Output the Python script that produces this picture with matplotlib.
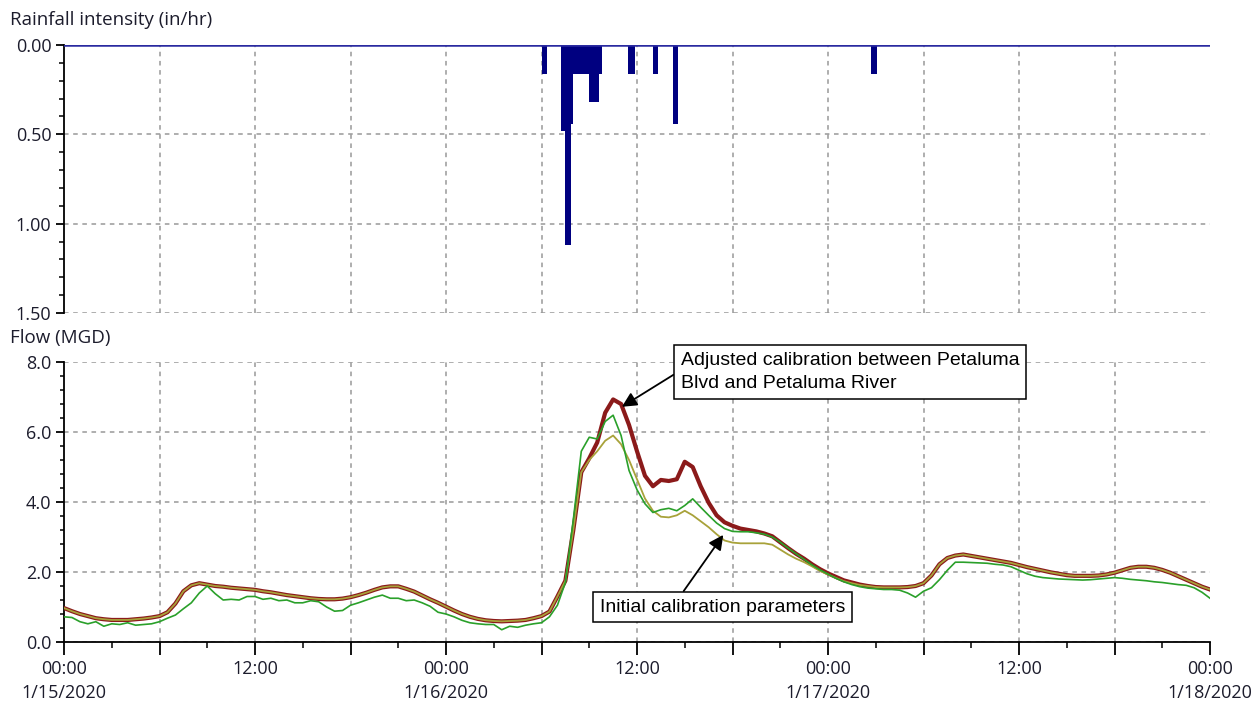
import matplotlib.pyplot as plt
import matplotlib.dates as mdates
from matplotlib import font_manager
from matplotlib.ticker import MultipleLocator, FormatStrFormatter
import pandas as pd

# rainfall (in/hr), 1/16 - 1/17 2020
rain_start = ["2020-01-16 06:00", "2020-01-16 07:12", "2020-01-16 07:30", "2020-01-16 07:50",
              "2020-01-16 08:00", "2020-01-16 09:00", "2020-01-16 09:35", "2020-01-16 11:27",
              "2020-01-16 13:01", "2020-01-16 14:14", "2020-01-17 02:42"]
rain_minutes = [22, 18, 20, 10, 60, 35, 12, 25, 17, 19, 24]
rain_intensity = [0.16, 0.48, 1.12, 0.44, 0.16, 0.32, 0.16, 0.16, 0.16, 0.44, 0.16]

# flow (MGD), half-hourly from 1/15/2020 00:00 to 1/18/2020 00:00
adjusted = [0.97, 0.88, 0.80, 0.74, 0.68, 0.65, 0.63, 0.63, 0.63, 0.65,
            0.67, 0.70, 0.74, 0.85, 1.10, 1.45, 1.62, 1.68, 1.64, 1.60,
            1.58, 1.55, 1.53, 1.51, 1.49, 1.45, 1.42, 1.38, 1.34, 1.31,
            1.28, 1.25, 1.23, 1.22, 1.22, 1.24, 1.28, 1.34, 1.41, 1.49,
            1.56, 1.59, 1.59, 1.52, 1.44, 1.33, 1.22, 1.12, 1.01, 0.90,
            0.80, 0.72, 0.66, 0.62, 0.60, 0.59, 0.60, 0.61, 0.63, 0.68,
            0.74, 0.87, 1.30, 1.75, 3.20, 4.85, 5.25, 5.70, 6.55, 6.93,
            6.80, 6.20, 5.45, 4.75, 4.45, 4.63, 4.60, 4.65, 5.15, 5.00,
            4.45, 3.98, 3.62, 3.42, 3.32, 3.24, 3.20, 3.16, 3.10, 3.02,
            2.85, 2.68, 2.52, 2.38, 2.22, 2.08, 1.96, 1.86, 1.76, 1.70,
            1.64, 1.60, 1.57, 1.56, 1.56, 1.56, 1.57, 1.60, 1.68, 1.90,
            2.22, 2.40, 2.47, 2.50, 2.46, 2.42, 2.38, 2.34, 2.30, 2.26,
            2.20, 2.14, 2.09, 2.04, 1.99, 1.95, 1.91, 1.89, 1.89, 1.89,
            1.90, 1.93, 1.98, 2.05, 2.12, 2.15, 2.15, 2.12, 2.06, 1.98,
            1.88, 1.78, 1.68, 1.58, 1.50]

initial = [0.97, 0.88, 0.80, 0.74, 0.68, 0.65, 0.63, 0.63, 0.63, 0.65,
           0.67, 0.70, 0.74, 0.85, 1.10, 1.45, 1.62, 1.68, 1.64, 1.60,
           1.58, 1.55, 1.53, 1.51, 1.49, 1.45, 1.42, 1.38, 1.34, 1.31,
           1.28, 1.25, 1.23, 1.22, 1.22, 1.24, 1.28, 1.34, 1.41, 1.49,
           1.56, 1.59, 1.59, 1.52, 1.44, 1.33, 1.22, 1.12, 1.01, 0.90,
           0.80, 0.72, 0.66, 0.62, 0.60, 0.59, 0.60, 0.61, 0.63, 0.68,
           0.74, 0.87, 1.30, 1.75, 3.20, 4.85, 5.20, 5.45, 5.75, 5.90,
           5.65, 5.20, 4.65, 4.10, 3.75, 3.58, 3.56, 3.62, 3.75, 3.62,
           3.45, 3.28, 3.08, 2.90, 2.84, 2.82, 2.82, 2.82, 2.82, 2.78,
           2.64, 2.50, 2.38, 2.28, 2.16, 2.03, 1.93, 1.83, 1.74, 1.68,
           1.63, 1.60, 1.57, 1.56, 1.56, 1.56, 1.57, 1.60, 1.68, 1.90,
           2.22, 2.40, 2.47, 2.50, 2.46, 2.42, 2.38, 2.34, 2.30, 2.26,
           2.20, 2.14, 2.09, 2.04, 1.99, 1.95, 1.91, 1.89, 1.89, 1.89,
           1.90, 1.93, 1.98, 2.05, 2.12, 2.15, 2.15, 2.12, 2.06, 1.98,
           1.88, 1.78, 1.68, 1.58, 1.50]

observed = [0.72, 0.70, 0.58, 0.52, 0.58, 0.45, 0.52, 0.50, 0.55, 0.48,
            0.50, 0.52, 0.58, 0.68, 0.77, 0.95, 1.12, 1.40, 1.60, 1.38,
            1.20, 1.22, 1.20, 1.30, 1.30, 1.22, 1.25, 1.18, 1.20, 1.12,
            1.12, 1.18, 1.15, 1.00, 0.88, 0.90, 1.05, 1.12, 1.20, 1.28,
            1.34, 1.25, 1.25, 1.18, 1.20, 1.12, 1.02, 0.85, 0.80, 0.72,
            0.62, 0.55, 0.52, 0.50, 0.50, 0.35, 0.45, 0.42, 0.48, 0.52,
            0.55, 0.72, 1.05, 1.70, 3.50, 5.45, 5.85, 5.80, 6.30, 6.48,
            5.90, 4.90, 4.35, 3.95, 3.70, 3.78, 3.82, 3.75, 3.90, 4.09,
            3.85, 3.62, 3.40, 3.24, 3.16, 3.15, 3.15, 3.12, 3.08, 3.00,
            2.85, 2.68, 2.52, 2.36, 2.20, 2.06, 1.94, 1.82, 1.72, 1.64,
            1.58, 1.54, 1.52, 1.50, 1.50, 1.48, 1.40, 1.28, 1.45, 1.55,
            1.78, 2.05, 2.28, 2.28, 2.27, 2.26, 2.25, 2.22, 2.20, 2.15,
            2.05, 1.95, 1.88, 1.84, 1.82, 1.80, 1.79, 1.78, 1.77, 1.78,
            1.80, 1.82, 1.84, 1.82, 1.79, 1.77, 1.75, 1.72, 1.70, 1.67,
            1.64, 1.62, 1.55, 1.42, 1.25]

t0 = pd.Timestamp("2020-01-15 00:00")
t1 = pd.Timestamp("2020-01-18 00:00")
times = pd.date_range(t0, t1, freq="30min")

plt.rcParams['font.family'] = ['Open Sans', 'DejaVu Sans']
plt.rcParams['font.size'] = 13
tick_col = '#1c1c2c'
grid_kw = dict(color='#999999', lw=1.1, linestyle=(0, (3, 3)))

# narrow font for the callouts if there is one
installed = {f.name for f in font_manager.fontManager.ttflist}
if 'Liberation Sans Narrow' in installed:
    note_font, note_size = ['Liberation Sans Narrow', 'DejaVu Sans'], 16
else:
    note_font, note_size = ['Liberation Sans', 'DejaVu Sans'], 14

fig = plt.figure(figsize=(12.57, 7.04), dpi=100)
ax1 = fig.add_axes([64/1257, 1-313/704, 1146/1257, 268/704])
ax2 = fig.add_axes([64/1257, 1-642/704, 1146/1257, 280/704])

# vertical grid every 6 hours (not at the ends)
for t in pd.date_range(t0 + pd.Timedelta(hours=6), t1 - pd.Timedelta(hours=6), freq="6h"):
    ax1.axvline(t, zorder=0, **grid_kw)
    ax2.axvline(t, zorder=0, **grid_kw)

# --- rainfall panel ---
starts = pd.to_datetime(rain_start)
widths = [m / 1440 for m in rain_minutes]
ax1.bar(starts, rain_intensity, width=widths, align='edge', color='#000080', zorder=3)
ax1.axhline(0, color='#2a2aa0', lw=1.8, zorder=4)
ax1.set_xlim(t0, t1)
ax1.set_ylim(1.5, 0)
ax1.yaxis.set_major_locator(MultipleLocator(0.5))
ax1.yaxis.set_minor_locator(MultipleLocator(0.1))
ax1.yaxis.set_major_formatter(FormatStrFormatter('%.2f'))
ax1.grid(axis='y', which='major', **grid_kw)
for s in ['top', 'right', 'bottom']:
    ax1.spines[s].set_visible(False)
ax1.spines['left'].set_linewidth(1.3)
ax1.tick_params(axis='x', which='both', bottom=False, labelbottom=False)
ax1.tick_params(axis='y', which='major', length=6, width=1.3, pad=3, colors='black', labelcolor=tick_col)
ax1.tick_params(axis='y', which='minor', length=3.5, width=1.1)

# --- flow panel ---
ax2.plot(times, adjusted, color='#8b1a1a', lw=3.0, zorder=3, solid_joinstyle='round')
ax2.plot(times, initial, color='#a8a23a', lw=1.3, zorder=4)
ax2.plot(times, observed, color='#2aa02a', lw=1.2, zorder=5)
ax2.set_xlim(t0, t1)
ax2.set_ylim(0, 8)
ax2.yaxis.set_major_locator(MultipleLocator(2))
ax2.yaxis.set_minor_locator(MultipleLocator(0.4))
ax2.yaxis.set_major_formatter(FormatStrFormatter('%.1f'))
ax2.grid(axis='y', which='major', **grid_kw)
for s in ['top', 'right']:
    ax2.spines[s].set_visible(False)
ax2.spines['left'].set_linewidth(1.3)
ax2.spines['bottom'].set_linewidth(1.3)

ax2.xaxis.set_major_locator(mdates.HourLocator(byhour=[0, 6, 12, 18]))
ax2.xaxis.set_minor_locator(mdates.HourLocator(byhour=[3, 9, 15, 21]))


def fmt_time(x, pos=None):
    d = mdates.num2date(x)
    if d.hour == 0:
        return "00:00\n%d/%d/%d" % (d.month, d.day, d.year)
    if d.hour == 12:
        return "12:00"
    return ""


ax2.xaxis.set_major_formatter(fmt_time)
ax2.tick_params(axis='x', which='major', length=9, width=1.3, pad=4, labelcolor=tick_col)
ax2.tick_params(axis='x', which='minor', length=4.5, width=1.1)
ax2.tick_params(axis='y', which='major', length=6, width=1.3, pad=3, labelcolor=tick_col)
ax2.tick_params(axis='y', which='minor', length=3, width=1.1)
for lab in ax2.get_xticklabels():
    lab.set_linespacing(1.4)
    lab.set_va('top')

fig.text(10/1257, 1-20/704, "Rainfall intensity (in/hr)", va='center', ha='left',
         color=tick_col, fontsize=13.5)
fig.text(10/1257, 1-338/704, "Flow (MGD)", va='center', ha='left',
         color=tick_col, fontsize=13.5)

# callouts
box = dict(boxstyle='square,pad=0.35', fc='white', ec='black', lw=1.1)
ax2.annotate("Adjusted calibration between Petaluma\nBlvd and Petaluma River",
             xy=(t0 + pd.Timedelta(hours=35.05), 6.72),
             xytext=(t0 + pd.Timedelta(hours=38.76), 7.71),
             ha='left', va='center', fontsize=note_size, family=note_font, bbox=box,
             linespacing=1.45, annotation_clip=False, zorder=10,
             arrowprops=dict(arrowstyle='-|>', color='black', lw=1.3,
                             mutation_scale=22, relpos=(0, 0.55), shrinkA=0, shrinkB=0))
ax2.annotate("Initial calibration parameters",
             xy=(t0 + pd.Timedelta(hours=41.42), 3.06),
             xytext=(t0 + pd.Timedelta(hours=33.67), 1.0),
             ha='left', va='center', fontsize=note_size, family=note_font, bbox=box,
             annotation_clip=False, zorder=10,
             arrowprops=dict(arrowstyle='-|>', color='black', lw=1.3,
                             mutation_scale=22, relpos=(0.32, 1), shrinkA=0, shrinkB=0))

fig.savefig("out.png", dpi=100)
